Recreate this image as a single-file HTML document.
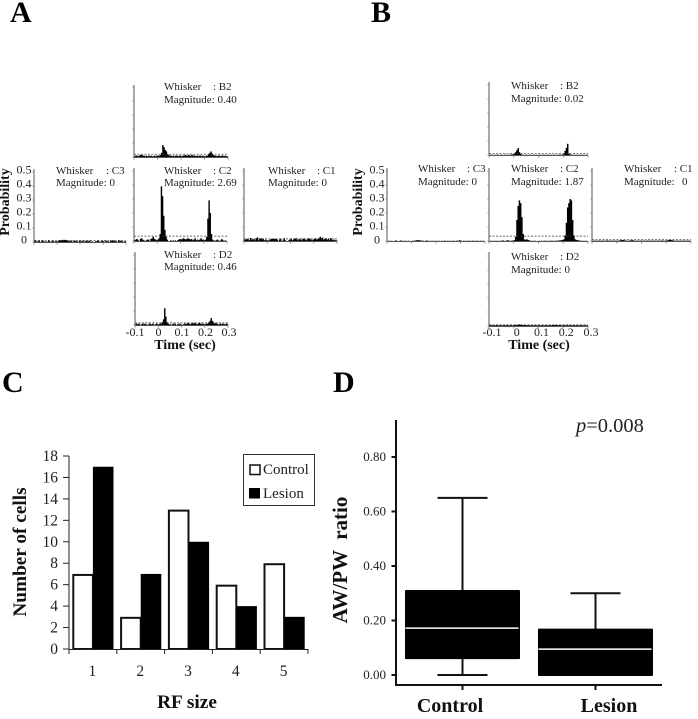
<!DOCTYPE html>
<html lang="en">
<head>
<meta charset="utf-8">
<title>Whisker response figure</title>
<style>
html,body{margin:0;padding:0;background:#fff;}
svg{display:block;font-family:"Liberation Serif",serif;fill:#222;filter:blur(0.35px);}
.letter{font-size:30px;font-weight:bold;fill:#000;}
.info{font-size:11px;fill:#222;}
.title{font-size:14px;font-weight:bold;fill:#111;}
.big{font-size:19.3px;font-weight:bold;fill:#111;}
.cat{font-size:20px;font-weight:bold;fill:#111;}
.ratio{font-size:21px;font-weight:bold;fill:#111;}
</style>
</head>
<body>
<svg id="fig" xmlns="http://www.w3.org/2000/svg" width="698" height="719" viewBox="0 0 698 719">
<rect width="698" height="719" fill="#fff"/>
<text class="letter" x="10" y="22">A</text>
<text class="letter" x="371" y="22">B</text>
<text class="letter" x="2" y="392">C</text>
<text class="letter" x="333" y="392">D</text>

<g id="psth"></g>

<text class="info" x="164" y="90">Whisker<tspan x="213">: B2</tspan></text>
<text class="info" x="164" y="103">Magnitude: 0.40</text>
<text class="info" x="56" y="174">Whisker<tspan x="106">: C3</tspan></text>
<text class="info" x="56" y="186">Magnitude: 0</text>
<text class="info" x="164" y="174">Whisker<tspan x="213">: C2</tspan></text>
<text class="info" x="164" y="186">Magnitude: 2.69</text>
<text class="info" x="268" y="174">Whisker<tspan x="317">: C1</tspan></text>
<text class="info" x="268" y="186">Magnitude: 0</text>
<text class="info" x="164" y="258">Whisker<tspan x="213">: D2</tspan></text>
<text class="info" x="164" y="270">Magnitude: 0.46</text>

<text class="info" x="511" y="89">Whisker<tspan x="560">: B2</tspan></text>
<text class="info" x="511" y="102">Magnitude: 0.02</text>
<text class="info" x="418" y="172">Whisker<tspan x="467">: C3</tspan></text>
<text class="info" x="418" y="185">Magnitude: 0</text>
<text class="info" x="511" y="172">Whisker<tspan x="560">: C2</tspan></text>
<text class="info" x="511" y="185">Magnitude: 1.87</text>
<text class="info" x="624" y="172">Whisker<tspan x="674">: C1</tspan></text>
<text class="info" x="624" y="185">Magnitude:  <tspan x="682">0</tspan></text>
<text class="info" x="511" y="260">Whisker<tspan x="560">: D2</tspan></text>
<text class="info" x="511" y="273">Magnitude: 0</text>

<text class="title" transform="translate(9,202) rotate(-90)" text-anchor="middle">Probability</text>
<text class="title" transform="translate(362,202) rotate(-90)" text-anchor="middle">Probability</text>
<text class="title" x="185" y="349" text-anchor="middle">Time (sec)</text>
<text class="title" x="539" y="349" text-anchor="middle">Time (sec)</text>

<g id="bars"></g>
<text class="big" transform="translate(26,552) rotate(-90)" text-anchor="middle">Number of cells</text>
<text class="big" x="187" y="708" text-anchor="middle">RF size</text>
<g>
<rect x="243.5" y="454.5" width="71" height="51" fill="#fff" stroke="#333" stroke-width="1"/>
<rect x="250" y="465" width="10" height="9.5" fill="#fff" stroke="#111" stroke-width="1.5"/>
<rect x="249" y="488" width="11" height="10.5" fill="#000"/>
<text x="263" y="474" font-size="15">Control</text>
<text x="263" y="498" font-size="15">Lesion</text>
</g>

<g id="box"></g>
<text class="ratio" transform="translate(347,560) rotate(-90)" text-anchor="middle" style="white-space:pre">AW/PW  ratio</text>
<text x="576" y="432" font-size="20.5" fill="#222"><tspan font-style="italic">p</tspan>=0.008</text>
</svg>

<script>
// PSTH values: probability per 5 ms bin, -0.1 s to 0.3 s (80 bins)
const aB2 = [
.005,.01,.01,.005,.01,.015,.015,.01,.01,.005,
.01,.005,.01,.005,.01,.005,.005,.01,.005,.01,
.01,.01,.015,.03,.085,.07,.05,.04,.02,.015,
.01,.01,.005,.01,.005,.01,.01,.005,.01,.01,
.005,.01,.01,.015,.01,.01,.015,.01,.01,.015,
.01,.01,.005,.01,.005,.01,.01,.005,.01,.005,
.005,.01,.01,.02,.03,.04,.025,.015,.01,.01,
.005,.01,.01,.005,.01,.01,.005,.01,.005,.005];
const aC3 = [
.005,.01,0,.005,.01,0,.005,.01,.005,0,
.005,0,.01,.005,0,.005,.01,0,.005,.005,
.005,.01,.01,.012,.015,.015,.015,.015,.012,.01,
.005,.005,.01,0,.005,.01,.005,.005,0,.01,
.005,.005,.01,0,.005,.01,.005,.005,.01,0,
.005,0,0,.005,.005,.01,.005,0,.005,.01,
.005,0,.01,.005,.005,0,.01,.005,.01,.01,
.005,.005,0,.01,.005,.01,.005,0,.005,.005];
const aC2 = [
.005,.01,.015,.005,0,.015,.02,.01,.005,0,
.005,.01,.01,0,.015,.02,.03,.015,.01,.005,
.01,.02,.05,.39,.32,.18,.08,.03,.01,0,
0,.005,0,.005,0,.005,0,.005,.01,.015,
.01,.015,.02,.015,.01,.015,.02,.015,.01,.015,
.005,.01,.02,.005,.01,.005,.01,.02,.01,.01,
.005,.01,.03,.16,.29,.20,.05,.01,.005,0,
.005,.01,.005,0,.005,.015,.005,0,.005,0];
const aC1 = [
.01,.01,.015,.01,.005,.02,.01,.01,.015,.005,
.02,.025,.005,.015,.02,.01,.015,.005,.01,.005,
.005,.005,.01,.015,.015,.015,.015,.015,.01,0,
.01,.015,0,.005,.02,.005,0,0,.005,.01,
.015,.005,.01,.015,.02,.01,.005,.015,.01,.005,
.015,.02,.01,.005,.015,.02,.015,.01,.005,.01,
.015,.02,.01,.015,.02,.03,.02,.025,.01,.015,
.02,.01,.015,.005,.02,.01,.005,.01,.005,.005];
const aD2 = [
.005,.01,.005,.01,0,.005,.01,.005,.01,.005,
0,.005,.01,.005,.005,.01,0,.005,.01,.005,
.005,.01,.01,.02,.04,.12,.06,.02,.01,.005,
.005,0,.01,.005,.01,0,.005,.005,.01,.005,
0,.005,.01,.005,.01,.015,.01,.005,.01,.015,
.01,.015,.01,.005,.01,.015,.01,.005,.01,.005,
.005,.01,.01,.02,.03,.05,.03,.02,.01,.015,
.01,.005,.005,.01,.005,.01,.005,.005,.01,.005];
const bB2 = [
0,.002,.002,0,.002,0,.002,.002,0,.002,
.002,0,.002,.002,0,.002,.002,.002,.004,.006,
.008,.02,.035,.05,.02,.008,.002,.002,0,.002,
.002,0,.002,.002,0,.002,.002,0,.002,0,
.002,.002,0,.002,.002,0,.002,.002,0,.002,
.002,0,.002,.002,0,.002,.002,.002,.002,.004,
.006,.03,.05,.08,.01,.004,.002,.002,0,.002,
.002,0,.002,.002,0,.002,.002,0,.002,.002];
const bC3 = [
0,.002,0,.002,0,0,.002,.004,0,0,
.002,.004,0,.002,0,.002,0,.002,0,0,
.002,.002,.002,.004,.006,.006,.005,.004,.002,.002,
0,.002,.004,0,.002,0,.002,0,.002,0,
.002,0,.002,0,.002,0,.002,.002,0,.002,
0,.002,0,.002,.002,0,.002,.002,.002,.006,
.002,0,.002,0,.002,0,.002,.002,0,.002,
.002,0,.002,0,.002,0,.002,0,.002,0];
const bC2 = [
0,.002,0,.002,0,.002,0,.002,0,.002,
.002,.004,0,.002,.004,.005,.002,0,.004,.002,
.008,.03,.15,.25,.29,.27,.17,.05,.012,.008,
.012,.008,.004,.002,0,.002,0,.002,0,0,
.002,0,.002,0,.002,.002,0,.002,0,.002,
.002,.002,0,.002,.002,.002,.004,.004,.006,.008,
.012,.04,.13,.24,.27,.30,.29,.15,.04,.012,
.008,.006,.004,.002,.002,0,.002,0,.002,0];
const bC1 = [
.002,.002,.003,.002,.002,.003,.002,.002,.003,.002,
.002,.003,.004,.002,.002,.003,.002,.003,.002,.002,
.003,.002,.004,.006,.007,.006,.004,.003,.002,.002,
.003,.005,.006,.004,.002,.002,.003,.002,.002,.003,
.002,.003,.002,.002,.003,.002,.002,.003,.002,.002,
.003,.002,.002,.003,.002,.002,.004,.002,.002,.003,
.004,.006,.007,.008,.006,.004,.002,.002,.003,.002,
.002,.003,.002,.002,.003,.002,.002,.003,.002,.002];
const bD2 = [
.004,.006,.004,.006,.004,.005,.007,.004,.006,.004,
.005,.004,.006,.004,.007,.004,.005,.006,.004,.005,
.006,.008,.006,.01,.012,.008,.01,.006,.008,.005,
.006,.004,.006,.004,.005,.004,.006,.004,.005,.004,
.006,.004,.005,.006,.004,.006,.004,.005,.004,.006,
.005,.007,.006,.008,.007,.006,.005,.006,.004,.005,
.004,.006,.004,.006,.005,.004,.006,.004,.005,.004,
.006,.004,.005,.004,.006,.004,.004,.005,.004,.004];

const psthYTicks = ["0","0.1","0.2","0.3","0.4","0.5"];
const psthYValues = [0,0.1,0.2,0.3,0.4,0.5];
const psthXTicks = ["-0.1","0","0.1","0.2","0.3"];
const psthXValues = [-0.1,0,0.1,0.2,0.3];

// Bar chart values
const rfCategories = ["1","2","3","4","5"];
const controlCells = [7,3,13,6,8];
const lesionCells = [17,7,10,4,3];
const countTicks = [0,2,4,6,8,10,12,14,16,18];

// Box plot values
const boxCategories = ["Control","Lesion"];
const boxLow = [0,0];
const boxQ1 = [0.062,0];
const boxMedian = [0.172,0.095];
const boxQ3 = [0.312,0.17];
const boxHigh = [0.65,0.30];
const ratioTicks = [0,0.2,0.4,0.6,0.8];

const NS = "http://www.w3.org/2000/svg";
function mk(parent, tag, attrs, txt){
  const el = document.createElementNS(NS, tag);
  for (const k in attrs) el.setAttribute(k, attrs[k]);
  if (txt !== undefined) el.textContent = txt;
  parent.appendChild(el);
  return el;
}

/* ---------- PSTH panels ---------- */
const psthLayer = document.getElementById("psth");
const psthPanels = [
  {id:"a-b2", d:aB2, thr:.02,  x:134, w:94, base:157, top:85},
  {id:"a-c3", d:aC3, thr:.012, x:34,  w:92, base:242, top:169},
  {id:"a-c2", d:aC2, thr:.035, x:134, w:93, base:241, top:168},
  {id:"a-c1", d:aC1, thr:.015, x:244, w:93, base:241, top:168},
  {id:"a-d2", d:aD2, thr:.015, x:135, w:93, base:325, top:252},
  {id:"b-b2", d:bB2, thr:.012, x:489, w:99, base:155, top:82},
  {id:"b-c3", d:bC3, thr:0,    x:387, w:98, base:241, top:168},
  {id:"b-c2", d:bC2, thr:.035, x:489, w:99, base:241, top:168},
  {id:"b-c1", d:bC1, thr:.012, x:592, w:99, base:241, top:168},
  {id:"b-d2", d:bD2, thr:.008, x:489, w:99, base:326, top:252}
];
const PSTH_SCALE = 140; // px per unit probability
psthPanels.forEach(function(p){
  const g = mk(psthLayer, "g", {});
  
  
  const bw = p.w / p.d.length;
  const xS = function(i){ return p.x + i * bw; };
  const yS = function(v){ return p.base - v * PSTH_SCALE; };
  p.d.forEach(function(v, i){
    const bar = mk(g, "rect", {x:xS(i).toFixed(2), y:yS(v).toFixed(2), width:(bw+0.25).toFixed(2), height:(v*PSTH_SCALE).toFixed(2), fill:"#000"});
    
    
  });
  const yAxis = mk(g, "line", {x1:p.x, x2:p.x, y1:p.top, y2:p.base+1, stroke:"#555", "stroke-width":1});
  
  
  const xAxis = mk(g, "line", {x1:p.x, x2:p.x+p.w, y1:p.base+.5, y2:p.base+.5, stroke:"#555", "stroke-width":1});
  
  
  psthYValues.forEach(function(v){
    const t = mk(g, "line", {x1:p.x-1.5, x2:p.x, y1:yS(v), y2:yS(v), stroke:"#888", "stroke-width":1});
    
    
  });
  psthXValues.forEach(function(v){
    const tx = p.x + (v + 0.1) / 0.4 * p.w;
    const t = mk(g, "line", {x1:tx, x2:tx, y1:p.base+.5, y2:p.base+2.5, stroke:"#888", "stroke-width":1});
    
    
  });
  if (p.thr > 0) {
    const th = mk(g, "line", {x1:p.x, x2:p.x+p.w, y1:yS(p.thr), y2:yS(p.thr), stroke:"#333", "stroke-width":.7, "stroke-dasharray":"2 1.5"});
    
    
  }
});
function psthLabels(cx, base, xAxisLeft, xAxisW){
  psthYTicks.forEach(function(lbl, i){
    const y = base - psthYValues[i] * PSTH_SCALE + 3.5;
    const t = mk(psthLayer, "text", {x:cx, y:y, "text-anchor":"middle", "font-size":12, fill:"#222"}, lbl);
    
    
  });
  psthXTicks.forEach(function(lbl, i){
    const x = xAxisLeft + (psthXValues[i] + 0.1) / 0.4 * xAxisW;
    const t = mk(psthLayer, "text", {x:x, y:336, "text-anchor":"middle", "font-size":12, fill:"#222"}, lbl);
    
    
  });
}
psthLabels(24, 240, 135, 94);
psthLabels(377, 240, 492, 99);

/* ---------- Bar chart ---------- */
const barsG = document.getElementById("bars");
const cLeft = 69, cRight = 308, cBase = 649, cTop = 456;
const cBand = (cRight - cLeft) / rfCategories.length;
const cBarW = 20.6;
const cy = function(v){ return cBase - v / 18 * (cBase - cTop); };
const cx = function(i){ return cLeft + (i + 0.5) * cBand; };
rfCategories.forEach(function(cat, i){
  const hC = cBase - cy(controlCells[i]);
  const barC = mk(barsG, "rect", {x:cx(i)-cBarW+1, y:cy(controlCells[i])+1, width:cBarW-1, height:hC-1, fill:"#fff", stroke:"#111", "stroke-width":2});
  
  
  const barL = mk(barsG, "rect", {x:cx(i), y:cy(lesionCells[i]), width:cBarW, height:cBase-cy(lesionCells[i]), fill:"#000"});
  
  
  const lab = mk(barsG, "text", {x:cx(i)-.5, y:676, "text-anchor":"middle", "font-size":15.5, fill:"#222"}, cat);
  
  
});
const cYAxis = mk(barsG, "line", {x1:cLeft, x2:cLeft, y1:cTop, y2:cBase, stroke:"#222", "stroke-width":1});


const cXAxis = mk(barsG, "line", {x1:cLeft, x2:cRight, y1:cBase+.5, y2:cBase+.5, stroke:"#222", "stroke-width":1});


countTicks.forEach(function(v){
  const t = mk(barsG, "line", {x1:cLeft-6, x2:cLeft, y1:cy(v), y2:cy(v), stroke:"#222", "stroke-width":1});
  
  
  const l = mk(barsG, "text", {x:58, y:cy(v)+5, "text-anchor":"end", "font-size":15.5, fill:"#222"}, String(v));
  
  
});
for (let i = 0; i <= rfCategories.length; i++) {
  const t = mk(barsG, "line", {x1:cLeft+i*cBand, x2:cLeft+i*cBand, y1:cBase, y2:cBase+5, stroke:"#222", "stroke-width":1});
  
  
}

/* ---------- Box plot ---------- */
const boxG = document.getElementById("box");
const dy = function(v){ return 675 - v * 272.5; };
const dx = function(i){ return 462.5 + i * 133; };
const dLabelX = [450, 609];
boxCategories.forEach(function(cat, i){
  const c = dx(i);
  const stem = mk(boxG, "line", {x1:c, x2:c, y1:dy(boxHigh[i]), y2:dy(boxLow[i]), stroke:"#111", "stroke-width":2});
  
  
  const capH = mk(boxG, "line", {x1:c-25, x2:c+25, y1:dy(boxHigh[i]), y2:dy(boxHigh[i]), stroke:"#111", "stroke-width":2});
  
  
  if (boxLow[i] !== boxQ1[i]) {
    const capL = mk(boxG, "line", {x1:c-25, x2:c+25, y1:dy(boxLow[i]), y2:dy(boxLow[i]), stroke:"#111", "stroke-width":2});
    
    
  }
  const rect = mk(boxG, "rect", {x:c-57.5, y:dy(boxQ3[i]), width:115, height:dy(boxQ1[i])-dy(boxQ3[i])+1, rx:1, fill:"#000"});
  
  
  const med = mk(boxG, "line", {x1:c-57, x2:c+56, y1:dy(boxMedian[i]), y2:dy(boxMedian[i]), stroke:"#fff", "stroke-width":1.5});
  
  
  const tick = mk(boxG, "line", {x1:c, x2:c, y1:685, y2:690, stroke:"#111", "stroke-width":2});
  
  
  const lab = mk(boxG, "text", {x:dLabelX[i], y:712, "text-anchor":"middle", "class":"cat"}, cat);
  
  
});
const dYAxis = mk(boxG, "line", {x1:396, x2:396, y1:420, y2:686, stroke:"#111", "stroke-width":2});


const dXAxis = mk(boxG, "line", {x1:395, x2:662, y1:685, y2:685, stroke:"#111", "stroke-width":2});


ratioTicks.forEach(function(v){
  const t = mk(boxG, "line", {x1:391.5, x2:396, y1:dy(v), y2:dy(v), stroke:"#111", "stroke-width":2});
  
  
  const l = mk(boxG, "text", {x:386, y:dy(v)+4, "text-anchor":"end", "font-size":13, fill:"#222"}, v.toFixed(2));
  
  
});
</script>
</body>
</html>
